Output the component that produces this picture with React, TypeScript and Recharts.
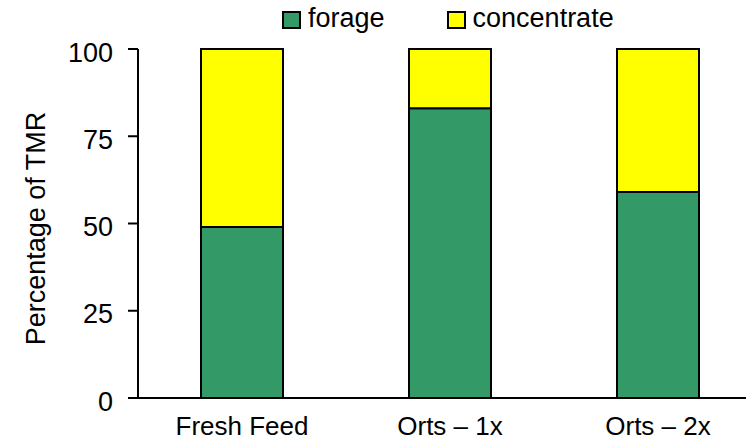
import { Bar, BarChart, XAxis, YAxis } from "recharts";

const categories = ["Fresh Feed", "Orts \u2013 1x", "Orts \u2013 2x"];
const forage = [49, 83, 59];
const concentrate = [51, 17, 41];
const yTicks = [0, 25, 50, 75, 100];

const data = categories.map((name, i) => ({
  name,
  forage: forage[i],
  concentrate: concentrate[i],
}));

const FONT = "'Liberation Sans', Arial, sans-serif";
const FORAGE = "#339966";
const CONC = "#ffff00";

function LegendItem({ label, color, gap }: { label: string; color: string; gap: number }) {
  return (
    <div style={{ display: "flex", alignItems: "flex-start", marginRight: gap }}>
      <div
        style={{
          width: 15,
          height: 14,
          marginTop: 6,
          background: color,
          border: "2px solid #000",
          marginRight: 7,
        }}
      />
      <span style={{ fontSize: 27, lineHeight: "27px", color: "#000" }}>{label}</span>
    </div>
  );
}

export default function App() {
  return (
    <div
      style={{
        position: "fixed",
        left: 0,
        top: 0,
        width: 746,
        height: 440,
        overflow: "hidden",
        background: "#fff",
        fontFamily: FONT,
      }}
    >
      <div style={{ position: "absolute", left: 282, top: 5, display: "flex" }}>
        <LegendItem label="forage" color={FORAGE} gap={62} />
        <LegendItem label="concentrate" color={CONC} gap={0} />
      </div>
      <BarChart
        width={770}
        height={440}
        data={data}
        margin={{ top: 49, right: 8, bottom: 12, left: 0 }}
        style={{ fontFamily: FONT }}
      >
        <XAxis
          dataKey="name"
          height={30}
          tickLine={false}
          tickSize={0}
          tickMargin={19}
          fontSize={26}
          axisLine={{ stroke: "#000", strokeWidth: 2 }}
          tick={{ fill: "#000", fontSize: 26 }}
        />
        <YAxis
          width={138}
          domain={[0, 100]}
          ticks={yTicks}
          interval={0}
          tickSize={10}
          tickMargin={15}
          fontSize={27}
          axisLine={{ stroke: "#000", strokeWidth: 2 }}
          tickLine={{ stroke: "#000", strokeWidth: 2 }}
          tick={{ fill: "#000", fontSize: 27, dy: 3 }}
          label={({ viewBox }: any) => {
            const cy = viewBox.y + viewBox.height / 2 + 5;
            return (
              <text
                x={45}
                y={cy}
                transform={`rotate(-90, 45, ${cy})`}
                textAnchor="middle"
                fontSize={27}
                fill="#000"
              >
                Percentage of TMR
              </text>
            );
          }}
        />
        <Bar
          dataKey="forage"
          stackId="a"
          fill={FORAGE}
          stroke="#000"
          strokeWidth={2}
          barSize={82}
          isAnimationActive={false}
        />
        <Bar
          dataKey="concentrate"
          stackId="a"
          fill={CONC}
          stroke="#000"
          strokeWidth={2}
          barSize={82}
          isAnimationActive={false}
        />
      </BarChart>
    </div>
  );
}
